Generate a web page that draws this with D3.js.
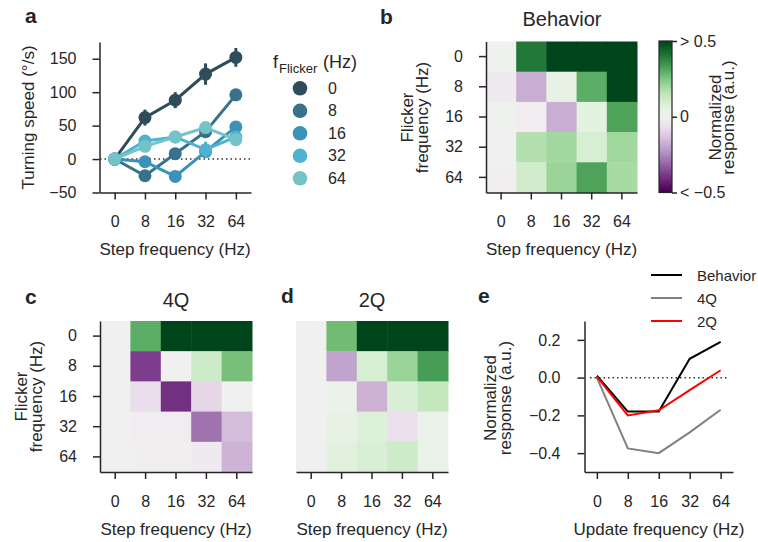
<!DOCTYPE html>
<html>
<head>
<meta charset="utf-8">
<script src="https://cdn.jsdelivr.net/npm/d3@7"></script>
<style>
  body { margin: 0; background: #fff; }
  svg text { font-family: "Liberation Sans", Arial, sans-serif; fill: #262626; }
</style>
</head>
<body>
<script>
// data
const steps = ['0', '8', '16', '32', '64'];
const flickers = ['0', '8', '16', '32', '64'];

// panel a: turning speed per flicker frequency, along step frequency
const speedF0 = [0, 62, 88, 127, 152];
const speedF8 = [0, -25, 8, 41, 96];
const speedF16 = [0, -4, -26, 11, 48];
const speedF32 = [0, 27, 33, 14, 33];
const speedF64 = [0, 19, 33, 47, 29];
const semF0 = [3, 12, 12, 16, 14];
const semF8 = [2, 5, 6, 6, 6];
const semF16 = [2, 5, 5, 6, 6];
const semF32 = [2, 6, 6, 12, 8];
const semF64 = [2, 5, 8, 8, 9];
const flickerColors = ['#2f4c5a', '#37728a', '#3a92b8', '#4fb2d2', '#74c3c6'];

// heatmaps, rows = flicker, cols = step
const behaviorMap = [
  [0.01, 0.40, 0.6, 0.6, 0.6],
  [-0.03, -0.18, 0.05, 0.30, 0.6],
  [0.01, -0.02, -0.18, 0.06, 0.32],
  [0.0, 0.17, 0.20, 0.10, 0.20],
  [-0.01, 0.11, 0.21, 0.32, 0.19]
];
const map4Q = [
  [0.0, 0.30, 0.6, 0.6, 0.6],
  [0.0, -0.375, 0.0, 0.12, 0.26],
  [0.0, -0.07, -0.40, -0.09, 0.0],
  [0.0, -0.02, -0.02, -0.29, -0.15],
  [0.0, -0.01, -0.01, -0.03, -0.17]
];
const map2Q = [
  [0.0, 0.27, 0.6, 0.6, 0.6],
  [0.0, -0.2, 0.1, 0.21, 0.33],
  [0.0, 0.03, -0.173, 0.09, 0.14],
  [0.0, 0.05, 0.08, -0.066, 0.03],
  [0.0, 0.07, 0.09, 0.12, 0.039]
];

// panel e
const lineBehavior = [0.01, -0.18, -0.18, 0.1, 0.19];
const line4Q = [0.0, -0.375, -0.4, -0.29, -0.17];
const line2Q = [0.005, -0.2, -0.173, -0.066, 0.039];

const ink = '#262626';
const tickFont = '16px';
const labelFont = '17px';

const svg = d3.select('body').append('svg')
  .attr('width', 758).attr('height', 542);

function styleAxis(g) {
  g.select('.domain').attr('stroke', ink).attr('stroke-width', 1.5);
  g.selectAll('.tick line').attr('stroke', ink).attr('stroke-width', 1.5);
  g.selectAll('.tick text').attr('font-size', tickFont).attr('fill', ink)
    .style('font-family', '"Liberation Sans", Arial, sans-serif');
}

function panelLetter(t, x, y) {
  svg.append('text').attr('x', x).attr('y', y)
    .attr('font-size', '21px').attr('font-weight', 'bold').text(t);
}

function rotLabel(lines, x0, cy, gap) {
  lines.forEach((l, i) => {
    svg.append('text')
      .attr('transform', `translate(${x0 + i * gap},${cy}) rotate(-90)`)
      .attr('text-anchor', 'middle').attr('font-size', labelFont).text(l);
  });
}

const color = v => d3.interpolatePRGn(Math.max(-0.5, Math.min(0.5, v)) + 0.5);

// ---------- panel a
const xA = d3.scaleLinear().domain([-0.5, 4.5]).range([99.5, 251]);
const yA = d3.scaleLinear().domain([-50, 175]).range([192.5, 42]);

svg.append('line')
  .attr('x1', 100).attr('x2', 251).attr('y1', yA(0)).attr('y2', yA(0))
  .attr('stroke', '#333').attr('stroke-width', 1.5).attr('stroke-dasharray', '1.5,3');

const seriesA = [speedF0, speedF8, speedF16, speedF32, speedF64];
const semA = [semF0, semF8, semF16, semF32, semF64];
seriesA.forEach((vals, k) => {
  const c = flickerColors[k];
  svg.append('path')
    .datum(vals)
    .attr('fill', 'none').attr('stroke', c).attr('stroke-width', 3)
    .attr('d', d3.line().x((d, i) => xA(i)).y(d => yA(d)));
  svg.selectAll(null).data(vals).enter().append('line')
    .attr('x1', (d, i) => xA(i)).attr('x2', (d, i) => xA(i))
    .attr('y1', (d, i) => yA(d - semA[k][i])).attr('y2', (d, i) => yA(d + semA[k][i]))
    .attr('stroke', c).attr('stroke-width', 3);
  svg.selectAll(null).data(vals).enter().append('circle')
    .attr('cx', (d, i) => xA(i)).attr('cy', d => yA(d)).attr('r', 6.5)
    .attr('fill', c);
});

svg.append('g').attr('transform', 'translate(99.5,0)')
  .call(d3.axisLeft(yA).tickValues([-50, 0, 50, 100, 150]).tickSize(7).tickSizeOuter(0).tickPadding(16))
  .call(styleAxis);
svg.append('g').attr('transform', 'translate(0,192.5)')
  .call(d3.axisBottom(xA).tickValues([0, 1, 2, 3, 4]).tickFormat(i => steps[i])
    .tickSize(7).tickSizeOuter(0).tickPadding(16))
  .call(styleAxis);

rotLabel(['Turning speed (°/s)'], 34, 117.5, 0);
svg.append('text').attr('x', 175).attr('y', 255).attr('text-anchor', 'middle')
  .attr('font-size', labelFont).text('Step frequency (Hz)');
panelLetter('a', 25, 23);

// legend a
svg.append('text').attr('x', 273).attr('y', 68).attr('font-size', '18px').text('f');
svg.append('text').attr('x', 279).attr('y', 73).attr('font-size', '13px').text('Flicker');
svg.append('text').attr('x', 323).attr('y', 68).attr('font-size', '18px').text('(Hz)');
const legY = d3.scalePoint().domain(flickers).range([88.3, 178.3]);
flickers.forEach((f, k) => {
  svg.append('circle').attr('cx', 300).attr('cy', legY(f)).attr('r', 7.3)
    .attr('fill', flickerColors[k]);
  svg.append('text').attr('x', 328).attr('y', legY(f) + 5.5)
    .attr('font-size', tickFont).text(f);
});

// ---------- heatmaps
function heatmap(data, x0, x1, y0, y1, showY) {
  const xs = d3.scaleBand().domain(steps).range([x0, x1]);
  const ys = d3.scaleBand().domain(flickers).range([y0, y1]);
  const g = svg.append('g');
  data.forEach((row, r) => {
    row.forEach((v, c) => {
      g.append('rect')
        .attr('x', xs(steps[c])).attr('y', ys(flickers[r]))
        .attr('width', xs.bandwidth() + 0.5).attr('height', ys.bandwidth() + 0.5)
        .attr('fill', color(v));
    });
  });
  svg.append('g').attr('transform', `translate(0,${y1})`)
    .call(d3.axisBottom(xs).tickSize(7).tickSizeOuter(0).tickPadding(y1 > 300 ? 17 : 16))
    .call(styleAxis);
  if (showY) {
    svg.append('g').attr('transform', `translate(${x0},0)`)
      .call(d3.axisLeft(ys).tickSize(7).tickSizeOuter(0).tickPadding(16))
      .call(styleAxis);
  }
  return xs;
}

// panel b
heatmap(behaviorMap, 486, 637, 41.5, 192.5, true);
svg.append('text').attr('x', 562).attr('y', 26).attr('text-anchor', 'middle')
  .attr('font-size', '20px').text('Behavior');
rotLabel(['Flicker', 'frequency (Hz)'], 413, 117.5, 15);
svg.append('text').attr('x', 561.5).attr('y', 255).attr('text-anchor', 'middle')
  .attr('font-size', labelFont).text('Step frequency (Hz)');
panelLetter('b', 380, 24);

// colorbar
const grad = svg.append('defs').append('linearGradient')
  .attr('id', 'prgn').attr('x1', 0).attr('x2', 0).attr('y1', 1).attr('y2', 0);
d3.range(0, 1.0001, 0.05).forEach(t => {
  grad.append('stop').attr('offset', t).attr('stop-color', d3.interpolatePRGn(t));
});
const yCb = d3.scaleLinear().domain([-0.5, 0.5]).range([192.5, 41]);
svg.append('rect').attr('x', 659).attr('y', 41).attr('width', 13).attr('height', 151.5)
  .attr('fill', 'url(#prgn)').attr('stroke', ink).attr('stroke-width', 1.2);
svg.append('g').attr('transform', 'translate(672,0)')
  .call(d3.axisRight(yCb).tickValues([-0.5, 0, 0.5])
    .tickFormat(d => d > 0 ? '> 0.5' : d < 0 ? '< −0.5' : '0')
    .tickSize(5).tickSizeOuter(0).tickPadding(3))
  .call(styleAxis)
  .call(g => g.select('.domain').remove());
rotLabel(['Normalized', 'response (a.u.)'], 721, 117.5, 13);

// panel c
heatmap(map4Q, 100, 252, 321, 472, true);
svg.append('text').attr('x', 176).attr('y', 306.5).attr('text-anchor', 'middle')
  .attr('font-size', '20px').text('4Q');
rotLabel(['Flicker', 'frequency (Hz)'], 27, 396.5, 14.5);
svg.append('text').attr('x', 176).attr('y', 535).attr('text-anchor', 'middle')
  .attr('font-size', labelFont).text('Step frequency (Hz)');
panelLetter('c', 25, 304);

// panel d
heatmap(map2Q, 296, 448, 321, 472, false);
svg.append('text').attr('x', 372).attr('y', 306.5).attr('text-anchor', 'middle')
  .attr('font-size', '20px').text('2Q');
svg.append('text').attr('x', 372).attr('y', 535).attr('text-anchor', 'middle')
  .attr('font-size', labelFont).text('Step frequency (Hz)');
panelLetter('d', 281, 303);

// ---------- panel e
const xE = d3.scaleLinear().domain([-0.4, 4.4]).range([584.5, 733]);
const yE = d3.scaleLinear().domain([-0.5, 0.3]).range([472, 321]);

svg.append('line')
  .attr('x1', 590).attr('x2', 728).attr('y1', yE(0)).attr('y2', yE(0))
  .attr('stroke', '#333').attr('stroke-width', 1.5).attr('stroke-dasharray', '1.5,3');

const seriesE = [
  { name: 'Behavior', vals: lineBehavior, c: '#000000' },
  { name: '4Q', vals: line4Q, c: '#808080' },
  { name: '2Q', vals: line2Q, c: '#ff0000' }
];
seriesE.forEach(s => {
  svg.append('path').datum(s.vals)
    .attr('fill', 'none').attr('stroke', s.c).attr('stroke-width', 2)
    .attr('d', d3.line().x((d, i) => xE(i)).y(d => yE(d)));
});

svg.append('g').attr('transform', 'translate(584.5,0)')
  .call(d3.axisLeft(yE).tickValues([-0.4, -0.2, 0, 0.2]).tickFormat(d3.format('.1f'))
    .tickSize(7).tickSizeOuter(0).tickPadding(17))
  .call(styleAxis);
svg.append('g').attr('transform', 'translate(0,472)')
  .call(d3.axisBottom(xE).tickValues([0, 1, 2, 3, 4]).tickFormat(i => steps[i])
    .tickSize(7).tickSizeOuter(0).tickPadding(17))
  .call(styleAxis);

rotLabel(['Normalized', 'response (a.u.)'], 496, 398, 14.5);
svg.append('text').attr('x', 659).attr('y', 535).attr('text-anchor', 'middle')
  .attr('font-size', labelFont).text('Update frequency (Hz)');
panelLetter('e', 478, 303);

// legend e
const legE = d3.scalePoint().domain(seriesE.map(s => s.name)).range([275, 321]);
seriesE.forEach(s => {
  svg.append('line').attr('x1', 651).attr('x2', 682)
    .attr('y1', legE(s.name)).attr('y2', legE(s.name))
    .attr('stroke', s.c).attr('stroke-width', 2);
  svg.append('text').attr('x', 697).attr('y', legE(s.name) + 5.5)
    .attr('font-size', '15px').text(s.name);
});
</script>
</body>
</html>
